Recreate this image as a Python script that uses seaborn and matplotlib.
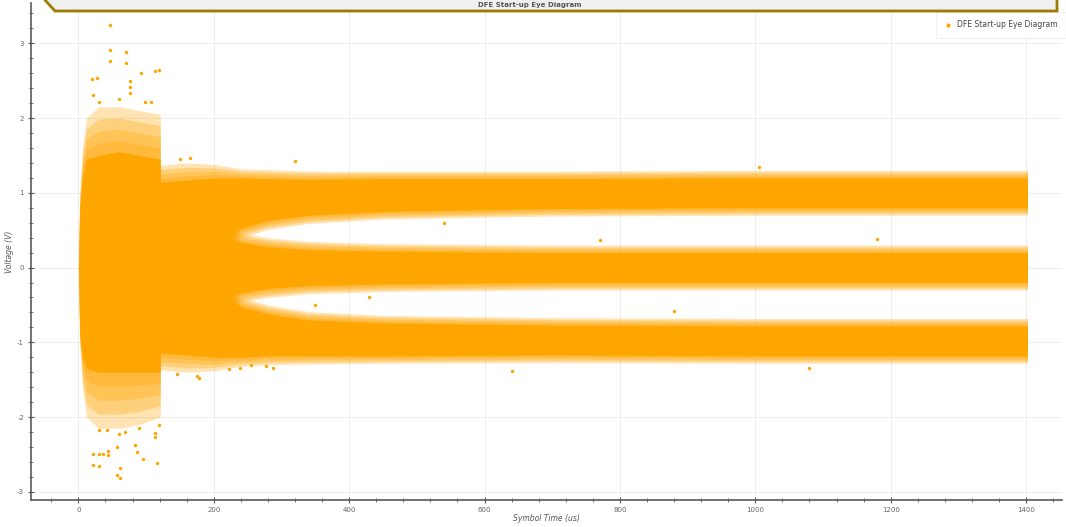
import numpy as np
import pandas as pd
import matplotlib
matplotlib.use("Agg")
import matplotlib.pyplot as plt
from matplotlib.patches import Polygon
from matplotlib.ticker import MultipleLocator
import seaborn as sns

# ---------------- data ----------------
# start-up blob (symbol time in us, voltage envelope in V)
startup_t = [0, 2, 6, 12, 30, 60, 90, 121]
startup_outer_hi = [0, 1.0, 1.6, 2.0, 2.15, 2.15, 2.1, 2.05]
startup_inner_hi = [0, 0.8, 1.2, 1.45, 1.5, 1.55, 1.5, 1.45]
startup_inner_lo = [0, -0.9, -1.2, -1.35, -1.4, -1.4, -1.4, -1.4]
startup_outer_lo = [0, -1.0, -1.6, -2.0, -2.15, -2.15, -2.1, -2.0]

# three converging eye levels after the start-up
band_t = [121, 160, 200, 240, 280, 340, 450, 700, 1000, 1402]
band_top_center = [0.42, 0.55, 0.72, 0.86, 0.91, 0.94, 0.97, 0.99, 1.0, 1.0]
band_mid_center = [0, 0, 0, 0, 0, 0, 0, 0, 0, 0]
band_bot_center = [-0.42, -0.55, -0.72, -0.86, -0.9, -0.94, -0.96, -0.97, -0.98, -0.98]
band_outer_hw = [0.95, 0.85, 0.66, 0.46, 0.4, 0.35, 0.32, 0.3, 0.3, 0.3]
band_inner_hw = [0.72, 0.62, 0.48, 0.34, 0.28, 0.24, 0.22, 0.2, 0.2, 0.2]

# isolated samples
outlier_t = [46.6, 46.6, 46.6, 71, 71, 92.8, 112.9, 119.3, 19.6, 27.5, 21.4,
             76.5, 76.5, 76.5, 30.5, 59.9, 98, 107.8, 150, 165,
             22.2, 22.2, 30.9, 30.9, 35.8, 44, 44, 56.8, 56.8, 61.7, 61.7,
             83.8, 86.8, 96, 115.6, 113, 113, 119.5, 30, 42.5, 59.7, 69.5, 89,
             175.6, 178, 145, 223, 238, 255, 277, 287,
             1005, 1080, 770, 430, 540, 880, 1180, 640, 320, 350]
outlier_v = [3.25, 2.91, 2.77, 2.89, 2.74, 2.61, 2.63, 2.64, 2.52, 2.53, 2.31,
             2.5, 2.42, 2.34, 2.22, 2.26, 2.22, 2.22, 1.45, 1.47,
             -2.49, -2.64, -2.49, -2.65, -2.49, -2.45, -2.51, -2.40, -2.77, -2.81, -2.68,
             -2.37, -2.47, -2.56, -2.62, -2.22, -2.27, -2.11, -2.18, -2.18, -2.23, -2.2, -2.15,
             -1.45, -1.48, -1.43, -1.36, -1.34, -1.31, -1.32, -1.35,
             1.34, -1.34, 0.37, -0.4, 0.6, -0.58, 0.38, -1.38, 1.42, -0.5]

x_ticks = [0, 200, 400, 600, 800, 1000, 1200, 1400]
y_ticks = [-3, -2, -1, 0, 1, 2, 3]
series_label = "DFE Start-up Eye Diagram"
title_text = "DFE Start-up Eye Diagram"
x_label = "Symbol Time (us)"
y_label = "Voltage (V)"

# ---------------- figure ----------------
W, H = 1066, 527
sns.set_theme(style="white")
plt.rcParams['font.family'] = ['DejaVu Sans']
plt.rcParams['axes.unicode_minus'] = False

fig = plt.figure(figsize=(W / 100, H / 100), dpi=100, facecolor="white")
ax = fig.add_axes([31 / W, 1 - 500 / H, (1062 - 31) / W, (500 - 3) / H])
ax.set_facecolor("white")

ORANGE = "#FFA500"
N_LAYERS = 4


def soft_band(x, lo_out, hi_out, lo_in, hi_in):
    """Fill a band with a fuzzy edge: layered fills from outer to inner envelope."""
    lo_out, hi_out = np.asarray(lo_out, float), np.asarray(hi_out, float)
    lo_in, hi_in = np.asarray(lo_in, float), np.asarray(hi_in, float)
    for j in range(N_LAYERS):
        f = j / N_LAYERS
        lo = lo_out + (lo_in - lo_out) * f
        hi = hi_out + (hi_in - hi_out) * f
        ax.fill_between(x, lo, hi, color=ORANGE, alpha=0.3, lw=0, zorder=2)
    ax.fill_between(x, lo_in, hi_in, color=ORANGE, alpha=1.0, lw=0, zorder=2)


# start-up blob
st = np.array(startup_t, dtype=float)
soft_band(st, startup_outer_lo, startup_outer_hi, startup_inner_lo, startup_inner_hi)

# the three eye levels
bt = np.array(band_t, dtype=float)
ohw = np.array(band_outer_hw)
ihw = np.array(band_inner_hw)
for centers in (band_top_center, band_mid_center, band_bot_center):
    c = np.array(centers, dtype=float)
    soft_band(bt, c - ohw, c + ohw, c - ihw, c + ihw)

# individual samples
df = pd.DataFrame({"t": outlier_t, "v": outlier_v})
sns.scatterplot(data=df, x="t", y="v", ax=ax, color=ORANGE, s=6, linewidth=0,
                label=series_label, zorder=3)

# axes styling
ax.set_xlim(-70, 1453)
ax.set_ylim(-3.11, 3.54)
ax.set_xticks(x_ticks)
ax.set_yticks(y_ticks)
ax.xaxis.set_minor_locator(MultipleLocator(40))
ax.yaxis.set_minor_locator(MultipleLocator(0.2))
ax.grid(True, which="major", color="#eeeeee", lw=0.8, zorder=0)
ax.set_axisbelow(True)
for s in ("top", "right"):
    ax.spines[s].set_visible(False)
for s in ("left", "bottom"):
    ax.spines[s].set_color("#5a5a5a")
    ax.spines[s].set_linewidth(1.2)
ax.tick_params(axis="both", which="major", direction="inout", length=4, width=0.8,
               colors="#5a5a5a", labelsize=5, labelcolor="#666666")
ax.tick_params(axis="both", which="minor", direction="inout", length=3, width=0.6,
               colors="#5a5a5a")
ax.tick_params(axis="x", which="major", pad=3)
ax.tick_params(axis="y", which="major", pad=3)
ax.tick_params(axis="x", which="both", bottom=True)
ax.tick_params(axis="y", which="both", left=True)

ax.set_xlabel(x_label, fontsize=5.5, style="italic", color="#555555", labelpad=1)
ax.set_ylabel(y_label, fontsize=5.5, style="italic", color="#555555", labelpad=2)

leg = ax.legend(loc="upper right", bbox_to_anchor=(1.005, 0.985), fontsize=5.5,
                frameon=True, markerscale=1.2, handletextpad=0.6, borderpad=0.8,
                handlelength=1.0)
leg.get_frame().set_edgecolor("#eeeeee")
leg.get_frame().set_linewidth(0.8)
leg.get_frame().set_boxstyle("square")
for txt in leg.get_texts():
    txt.set_color("#444444")


# title box at the top (chamfered bottom-left corner), running off the top edge
def fx(px):
    return px / W


def fy(py):
    return 1 - py / H


box = Polygon([(fx(45), fy(-20)), (fx(45), fy(0)), (fx(55), fy(11)),
               (fx(1057), fy(11)), (fx(1057), fy(-20))],
              closed=True, transform=fig.transFigure, facecolor="#f0f0f0",
              edgecolor="#a07a00", linewidth=2.0, zorder=10)
fig.add_artist(box)
fig.text(fx(530), fy(5.5), title_text, ha="center", va="center", fontsize=5,
         fontweight="bold", color="#555555", zorder=11)

fig.savefig("out.png", dpi=100, facecolor="white")
